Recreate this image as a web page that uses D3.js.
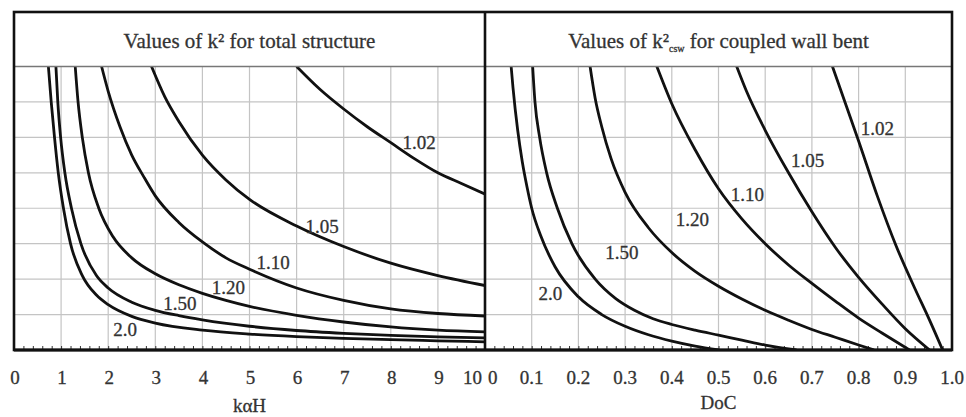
<!DOCTYPE html>
<html>
<head>
<meta charset="utf-8">
<script src="https://d3js.org/d3.v7.min.js"></script>
<style>
body{margin:0;background:#fff;}
text{font-family:"Liberation Serif","DejaVu Serif",serif;fill:#333;stroke:#333;stroke-width:0.3px;}
</style>
</head>
<body>
<div id="chart"></div>
<script>
// curve names, same order in both panels
var curveNames = ["2.0", "1.50", "1.20", "1.10", "1.05", "1.02"];

// left panel: k² for total structure vs kαH (y in grid units 0-8)
var total20  = [[0.73,8],[0.79,7],[0.86,6],[0.94,5],[1.05,4],[1.2,3],[1.45,2.1],[1.75,1.55],[2,1.28],[2.5,0.95],[3,0.76],[4,0.56],[5,0.45],[6,0.38],[7,0.33],[8,0.29],[9,0.26],[10,0.23]];
var total150 = [[0.89,8],[0.93,7],[0.99,6],[1.08,5],[1.22,4],[1.42,3],[1.75,2.1],[2,1.75],[2.5,1.35],[3,1.12],[3.5,0.97],[4,0.85],[5,0.67],[6,0.55],[7,0.47],[8,0.41],[9,0.37],[10,0.34]];
var total120 = [[1.3,8],[1.36,7],[1.45,6],[1.58,5],[1.8,4],[2.1,3.2],[2.5,2.6],[3,2.15],[3.5,1.84],[4,1.6],[4.5,1.4],[5,1.23],[6,0.98],[7,0.79],[8,0.65],[9,0.56],[10,0.51]];
var total110 = [[1.86,8],[2,7.3],[2.25,6.3],[2.5,5.5],[2.75,4.9],[3,4.35],[3.5,3.6],[4,3.05],[4.5,2.6],[5,2.28],[6,1.75],[7,1.4],[8,1.16],[9,1.03],[10,0.96]];
var total105 = [[2.92,8],[3.2,7.15],[3.5,6.45],[4,5.5],[4.5,4.8],[5,4.25],[6,3.5],[7,2.92],[8,2.45],[9,2.1],[10,1.82]];
var total102 = [[6,8],[6.5,7.35],[7,6.8],[7.5,6.3],[8,5.85],[8.5,5.4],[9,5],[9.5,4.7],[10,4.4]];

// right panel: k²csw for coupled wall bent vs DoC
var wall20  = [[0.056,8],[0.06,7.4],[0.07,6.2],[0.08,5.3],[0.09,4.6],[0.1,4],[0.12,3.2],[0.15,2.35],[0.2,1.5],[0.25,1],[0.3,0.67],[0.35,0.43],[0.4,0.25],[0.45,0.11],[0.5,0]];
var wall150 = [[0.102,8],[0.107,7],[0.117,6],[0.132,5],[0.155,4],[0.186,3],[0.236,2],[0.28,1.45],[0.32,1.12],[0.36,0.88],[0.4,0.72],[0.45,0.56],[0.5,0.42],[0.55,0.28],[0.6,0.14],[0.667,0]];
var wall120 = [[0.225,8],[0.236,7.1],[0.25,6.3],[0.27,5.4],[0.3,4.45],[0.35,3.45],[0.4,2.75],[0.45,2.22],[0.5,1.8],[0.55,1.44],[0.6,1.12],[0.65,0.84],[0.7,0.58],[0.75,0.36],[0.8,0.14],[0.833,0]];
var wall110 = [[0.368,8],[0.4,6.95],[0.45,5.65],[0.5,4.55],[0.55,3.7],[0.6,3],[0.65,2.4],[0.7,1.88],[0.75,1.38],[0.8,0.9],[0.85,0.48],[0.909,0]];
var wall105 = [[0.539,8],[0.56,7.3],[0.6,6.2],[0.65,5],[0.7,3.9],[0.75,2.9],[0.8,2.05],[0.85,1.3],[0.9,0.6],[0.952,0]];
var wall102 = [[0.744,8],[0.76,7.4],[0.8,5.9],[0.84,4.35],[0.88,2.95],[0.92,1.75],[0.95,0.9],[0.98,0]];

// where the curve names sit (data coords)
var totalLabelAt = [[2.36,0.58],[3.52,1.32],[4.55,1.76],[5.5,2.48],[6.54,3.48],[8.6,5.85]];
var wallLabelAt  = [[0.14,1.6],[0.293,2.75],[0.444,3.68],[0.562,4.38],[0.691,5.35],[0.84,6.25]];

// tick labels
var totalTicks = [0,1,2,3,4,5,6,7,8,9,10];
var wallTicks = [0,0.1,0.2,0.3,0.4,0.5,0.6,0.7,0.8,0.9,1.0];

var width = 966, height = 417;

var svg = d3.select("#chart")
    .append("svg")
    .attr("width", width)
    .attr("height", height);

// frame geometry
var frameLeft = 14, frameMid = 485, frameRight = 952,
    frameTop = 12, headBottom = 66.5, frameBottom = 350;

var xTotal = d3.scaleLinear().domain([0, 10]).range([frameLeft, frameMid]);
var xWall = d3.scaleLinear().domain([0, 1]).range([frameMid, frameRight]);
var y = d3.scaleLinear().domain([0, 8]).range([frameBottom, headBottom]);

// clip paths per panel
var defs = svg.append("defs");
defs.append("clipPath").attr("id", "clipL")
    .append("rect").attr("x", frameLeft).attr("y", headBottom)
    .attr("width", frameMid - frameLeft).attr("height", frameBottom - headBottom);
defs.append("clipPath").attr("id", "clipR")
    .append("rect").attr("x", frameMid).attr("y", headBottom)
    .attr("width", frameRight - frameMid).attr("height", frameBottom - headBottom);

// grid
var grid = svg.append("g").attr("class", "grid")
    .attr("stroke", "#c4c4c4")
    .attr("stroke-width", 1.2);

grid.selectAll(".hgrid")
    .data(d3.range(1, 8))
    .enter()
    .append("line")
    .attr("x1", frameLeft).attr("x2", frameRight)
    .attr("y1", function(d){ return y(d); })
    .attr("y2", function(d){ return y(d); });

grid.selectAll(".vgridL")
    .data(totalTicks.slice(1, -1))
    .enter()
    .append("line")
    .attr("x1", function(d){ return xTotal(d); })
    .attr("x2", function(d){ return xTotal(d); })
    .attr("y1", headBottom).attr("y2", frameBottom);

grid.selectAll(".vgridR")
    .data(wallTicks.slice(1, -1))
    .enter()
    .append("line")
    .attr("x1", function(d){ return xWall(d); })
    .attr("x2", function(d){ return xWall(d); })
    .attr("y1", headBottom).attr("y2", frameBottom);

// minor ticks along the bottom edge
svg.append("g")
    .attr("transform", "translate(0," + frameBottom + ")")
    .call(d3.axisBottom(xTotal).tickValues(d3.range(0, 10.01, 0.2)).tickSize(-4).tickFormat(""))
    .call(function(g){ g.select(".domain").remove(); g.selectAll("line").attr("stroke", "#333"); });
svg.append("g")
    .attr("transform", "translate(0," + frameBottom + ")")
    .call(d3.axisBottom(xWall).tickValues(d3.range(0, 1.001, 0.02)).tickSize(-4).tickFormat(""))
    .call(function(g){ g.select(".domain").remove(); g.selectAll("line").attr("stroke", "#333"); });

// curves
function drawCurves(series, xScale, clip){
    var gen = d3.line()
        .x(function(d){ return xScale(d[0]); })
        .y(function(d){ return y(d[1]); })
        .curve(d3.curveMonotoneX);
    svg.append("g")
        .attr("clip-path", "url(#" + clip + ")")
        .selectAll("path")
        .data(series)
        .enter()
        .append("path")
        .attr("d", gen)
        .attr("fill", "none")
        .attr("stroke", "#111")
        .attr("stroke-width", 2.8);
}
drawCurves([total20, total150, total120, total110, total105, total102], xTotal, "clipL");
drawCurves([wall20, wall150, wall120, wall110, wall105, wall102], xWall, "clipR");

// curve names
function drawNames(at, xScale){
    svg.append("g")
        .selectAll("text")
        .data(at)
        .enter()
        .append("text")
        .attr("x", function(d){ return xScale(d[0]); })
        .attr("y", function(d){ return y(d[1]); })
        .attr("text-anchor", "middle")
        .attr("dominant-baseline", "central")
        .style("font-size", "19px")
        .text(function(d, i){ return curveNames[i]; });
}
drawNames(totalLabelAt, xTotal);
drawNames(wallLabelAt, xWall);

// frame, header rule, divider, bottom edge
svg.append("line")
    .attr("x1", frameLeft).attr("x2", frameRight)
    .attr("y1", headBottom).attr("y2", headBottom)
    .attr("stroke", "#777").attr("stroke-width", 1.5);
svg.append("rect")
    .attr("x", frameLeft).attr("y", frameTop)
    .attr("width", frameRight - frameLeft).attr("height", frameBottom - frameTop)
    .attr("fill", "none")
    .attr("stroke", "#111")
    .attr("stroke-width", 2.6);
svg.append("line")
    .attr("x1", frameMid).attr("x2", frameMid)
    .attr("y1", frameTop).attr("y2", frameBottom)
    .attr("stroke", "#111").attr("stroke-width", 2.6);
svg.append("line")
    .attr("x1", frameLeft).attr("x2", frameRight)
    .attr("y1", frameBottom).attr("y2", frameBottom)
    .attr("stroke", "#111").attr("stroke-width", 3);

// titles
svg.append("text")
    .attr("x", (frameLeft + frameMid) / 2).attr("y", 48)
    .attr("text-anchor", "middle")
    .style("font-size", "21px")
    .text("Values of k² for total structure");

var t2 = svg.append("text")
    .attr("x", (frameMid + frameRight) / 2).attr("y", 48)
    .attr("text-anchor", "middle")
    .style("font-size", "21px");
t2.append("tspan").text("Values of k²");
t2.append("tspan").attr("dy", 4).style("font-size", "10px").text("csw");
t2.append("tspan").attr("dy", -4).text(" for coupled wall bent");

// tick labels
svg.append("g").selectAll("text")
    .data(totalTicks)
    .enter()
    .append("text")
    .attr("x", function(d){ return d == 10 ? xTotal(d) - 3 : xTotal(d) + 1; })
    .attr("y", 384)
    .attr("text-anchor", function(d){ return d == 10 ? "end" : "middle"; })
    .style("font-size", "19px")
    .text(function(d){ return d; });

svg.append("g").selectAll("text")
    .data(wallTicks)
    .enter()
    .append("text")
    .attr("x", function(d){ return d == 0 ? xWall(d) + 3 : xWall(d); })
    .attr("y", 384)
    .attr("text-anchor", function(d){ return d == 0 ? "start" : "middle"; })
    .style("font-size", "19px")
    .text(function(d){ return d == 0 ? "0" : d.toFixed(1); });

// axis titles
svg.append("text")
    .attr("x", xTotal(5)).attr("y", 412)
    .attr("text-anchor", "middle")
    .style("font-size", "19px")
    .text("kαH");
svg.append("text")
    .attr("x", xWall(0.5)).attr("y", 409)
    .attr("text-anchor", "middle")
    .style("font-size", "19px")
    .text("DoC");
</script>
</body>
</html>
